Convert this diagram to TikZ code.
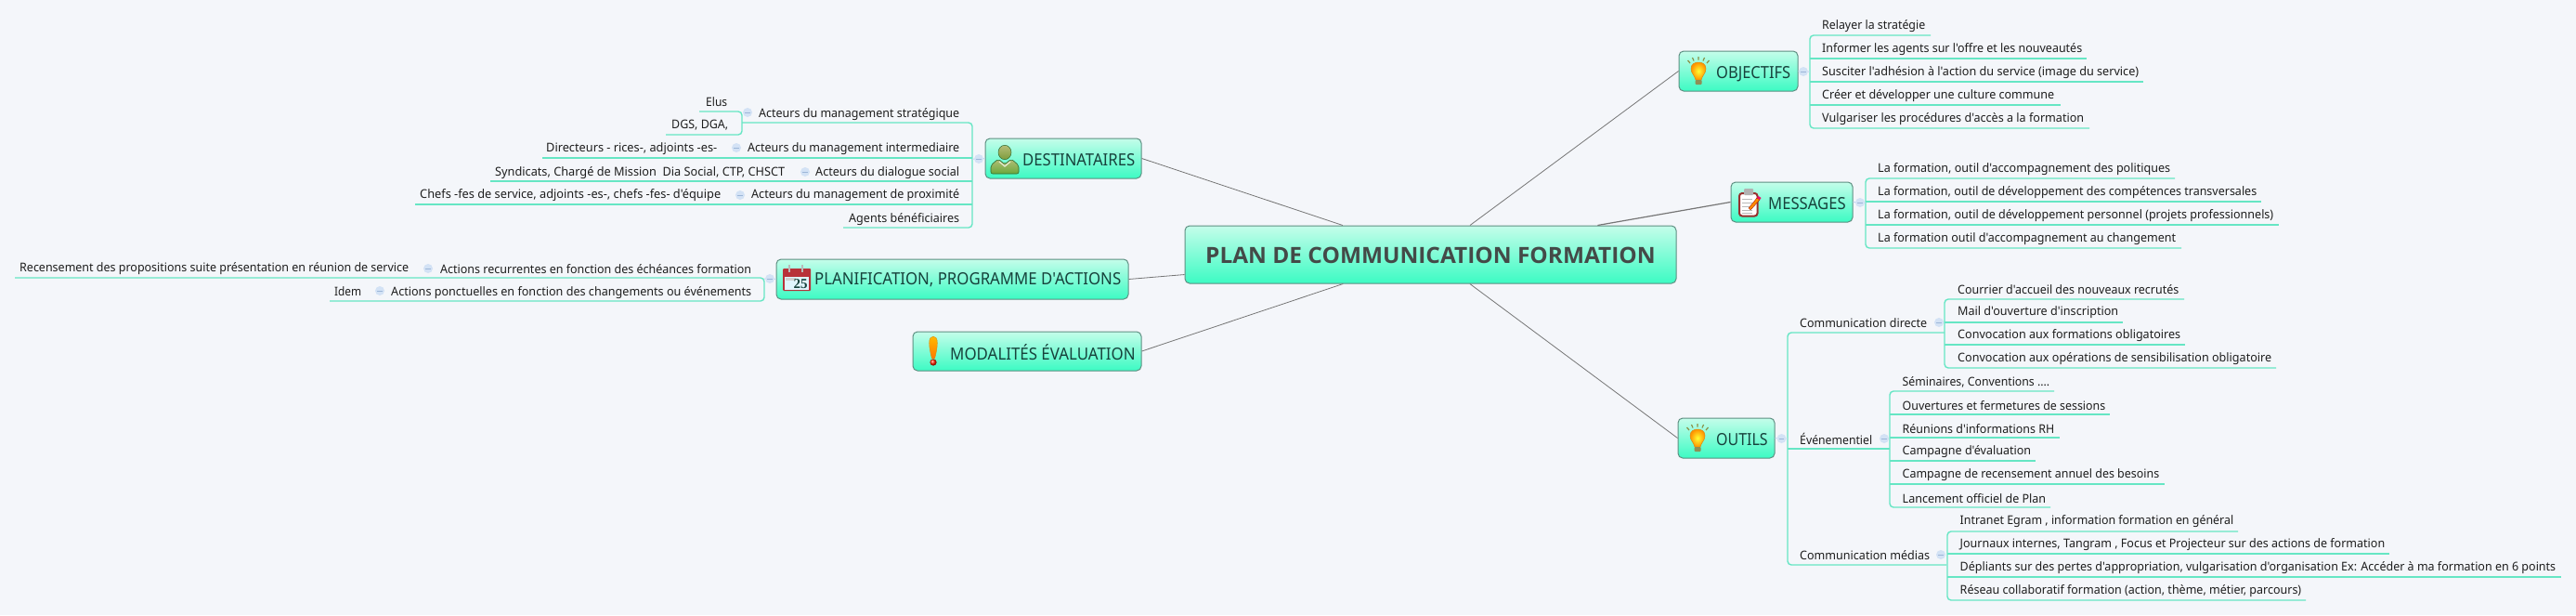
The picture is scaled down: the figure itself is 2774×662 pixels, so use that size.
\documentclass[tikz,border=0pt]{standalone}
\usepackage{fontspec}
\usepackage{graphicx}
\usetikzlibrary{calc}
\newfontfamily\mmfont{Noto Sans}
\newfontfamily\mmbold{Open Sans}
\newfontfamily\numfont{Liberation Serif}
\definecolor{bgc}{HTML}{F4F6FA}
\definecolor{branchc}{HTML}{66E6C4}
\definecolor{boxtop}{HTML}{C4FDEA}
\definecolor{boxbot}{HTML}{3CFBC3}
\definecolor{boxline}{HTML}{5E8F82}
\definecolor{titlec}{HTML}{17423C}
\definecolor{centerc}{HTML}{444A48}
\definecolor{leafc}{HTML}{1E1E1E}
\definecolor{stubc}{HTML}{C2D6F0}
\definecolor{colpsc}{HTML}{D3E2F5}
\definecolor{minusc}{HTML}{9DB6D8}
\definecolor{linkc}{HTML}{767676}
\definecolor{raysc}{HTML}{8A8F45}
\definecolor{bulbedge}{HTML}{D98A10}
\definecolor{bulbbase}{HTML}{8F8F55}
\definecolor{headtop}{HTML}{B4BE78}
\definecolor{headbot}{HTML}{7E9C3C}
\definecolor{bodybot}{HTML}{6AA83C}
\definecolor{persline}{HTML}{2F6A30}
\definecolor{calred}{HTML}{B8323A}
\definecolor{clipred}{HTML}{96302E}
\tikzset{
  x=1pt,y=-1pt,
  box/.style={draw=boxline,line width=1pt,rounded corners=5pt,top color=boxtop,bottom color=boxbot,inner sep=0pt},
  leaftext/.style={inner sep=0pt,anchor=west,text=leafc,text height=11.5pt,text depth=1.5pt,font=\mmfont\fontsize{13}{15}\selectfont},
  boxtitle/.style={inner sep=0pt,anchor=west,text=titlec,text height=16pt,text depth=2pt,font=\mmfont\fontsize{18}{20}\selectfont},
  centertitle/.style={inner sep=0pt,anchor=west,text=centerc,text height=21pt,text depth=2pt,font=\mmbold\bfseries\fontsize{24}{26}\selectfont},
  branch/.style={draw=branchc,line width=1.4pt},
  stub/.style={draw=stubc,line width=1pt},
  link/.style={draw=linkc,line width=.8pt},
  colps/.style={circle,fill=colpsc,inner sep=0pt,minimum size=10pt,path picture={\draw[minusc,line width=1pt] ($(path picture bounding box.center)+(-2.6,0)$) -- ($(path picture bounding box.center)+(2.6,0)$);}},
  bulb/.pic={
    \draw[raysc,line width=1.2pt] (-9,-9) -- (-11.5,-12) (-5,-11.5) -- (-6.5,-15) (0,-12.5) -- (0,-16) (5,-11.5) -- (6.5,-15) (9,-9) -- (11.5,-12);
    \shade[inner color=yellow!80!white,outer color=orange!85!yellow,draw=bulbedge,line width=.5pt]
      (-3,9) .. controls (-4,4) and (-8,2) .. (-8,-3) .. controls (-8,-8) and (-4,-10) .. (0,-10) .. controls (4,-10) and (8,-8) .. (8,-3) .. controls (8,2) and (4,4) .. (3,9) -- cycle;
    \fill[bulbbase,rounded corners=1pt] (-3.5,9) rectangle (3.5,14);
  },
  personic/.pic={
    \shade[top color=headtop,bottom color=bodybot,draw=persline,line width=.6pt,rounded corners=2pt]
      (-15,16) -- (-15,7) -- (-7,0) -- (0,6) -- (7,0) -- (15,7) -- (15,16) -- cycle;
    \draw[white!70!headtop,line width=1.2pt] (-6,3) -- (0,8) -- (6,3);
    \shade[top color=headtop,bottom color=headbot,draw=persline,line width=.5pt] (0,-7) ellipse (7 and 7.7);
  },
  calic/.pic={
    \fill[calred,rounded corners=1pt] (-15,-10) rectangle (15,14);
    \fill[white!88!cyan] (-13,-1) rectangle (13,12.5);
    \fill[gray!35] (-12,0) rectangle (-1,3);
    \draw[gray!55,line width=1.5pt] (-8,-14) -- (-8,-6);
    \draw[gray!55,line width=1.5pt] (6,-14) -- (6,-6);
    \node[inner sep=0pt,text=titlec] (calnum) at (4,6.5) {\numfont\bfseries\fontsize{15}{15}\selectfont 25};
  },
  clipic/.pic={
    \draw[draw=clipred,fill=white,line width=2pt,rounded corners=3pt] (-11,-10) rectangle (8.5,14.5);
    \fill[gray!60,rounded corners=1pt] (-6,-15) rectangle (4,-8);
    \foreach \yy in {-4,0,4,8,11}{\draw[gray!55,line width=.9pt] (-8,\yy) -- (3,\yy);}
    \fill[orange!90!yellow,draw=red!60!black,line width=.3pt] (-1,6) -- (8,-5) -- (11,-3) -- (1,8) -- cycle;
    \fill[magenta!60!red] (8,-5) -- (9.5,-7) -- (12.5,-5) -- (11,-3) -- cycle;
  },
  exclic/.pic={
    \shade[top color=orange!55!yellow,bottom color=orange!95!red,draw=bulbedge,line width=.4pt] (-1.5,9) .. controls (-5,-4) and (-6,-15) .. (0,-15) .. controls (6,-15) and (5,-4) .. (1.5,9) -- cycle;
    \shade[ball color=red!70!orange] (0,13) circle (3.6);
  }
}
\newcommand{\fitlabel}[6]{\node[#6] (#1) at (#2,#4) {\resizebox{\dimexpr#3pt-#2pt\relax}{\height}{#5}};}
\newcommand{\lblx}[5]{\fitlabel{#1}{#2}{#3}{#4}{#5}{leaftext}}
% name, text left, text right, text y, trunk x, far x, underline y, text
\newcommand{\leafx}[8]{\lblx{#1}{#2}{#3}{#4}{#8}\coordinate (#1A) at (#5,#7);\coordinate (#1B) at (#6,#7);}
\begin{document}
\begin{tikzpicture}
\useasboundingbox[fill=bgc] (0,0) rectangle (2774,662);

% main boxes
\node[box,minimum width=529pt,minimum height=62pt] (plan) at (1540.5,274) {};
\node[box,minimum width=168pt,minimum height=43pt] (dest) at (1145,170.5) {};
\node[box,minimum width=379pt,minimum height=43pt] (prog) at (1025.5,300.5) {};
\node[box,minimum width=246pt,minimum height=42pt] (moda) at (1106,378) {};
\node[box,minimum width=128pt,minimum height=43pt] (obje) at (1872,76.5) {};
\node[box,minimum width=131pt,minimum height=43pt] (mess) at (1929.5,217.5) {};
\node[box,minimum width=104pt,minimum height=43pt] (outi) at (1859,471.5) {};

\fitlabel{planT}{1298}{1782.5}{274}{PLAN DE COMMUNICATION FORMATION}{centertitle}
\fitlabel{destT}{1101}{1222}{171}{DESTINATAIRES}{boxtitle}
\fitlabel{progT}{877}{1207}{299}{PLANIFICATION, PROGRAMME D'ACTIONS}{boxtitle}
\fitlabel{modaT}{1023}{1222.5}{380}{MODALITÉS ÉVALUATION}{boxtitle}
\fitlabel{objeT}{1848}{1928}{77}{OBJECTIFS}{boxtitle}
\fitlabel{messT}{1904}{1987.5}{218}{MESSAGES}{boxtitle}
\fitlabel{outiT}{1848}{1903.5}{472}{OUTILS}{boxtitle}

% links from the centre
\draw[link] (plan) -- (obje.west);
\draw[link,line width=1.2pt] (plan) -- (mess.west);
\draw[link] (plan) -- (outi.west);
\draw[link] (plan) -- (dest.east);
\draw[link] (plan) -- (prog.east);
\draw[link] (plan) -- (moda.east);

% icons
\pic at (1829,77) {bulb};
\pic at (1828,472) {bulb};
\pic at (1082,171) {personic};
\pic at (858,299) {calic};
\pic at (1884,218) {clipic};
\pic at (1005,377) {exclic};

% DESTINATAIRES branch
\leafx{d1}{817}{1033}{121}{799}{1047}{132}{Acteurs du management stratégique}
\leafx{d2}{805}{1033}{158}{1047}{584}{170}{Acteurs du management intermediaire}
\leafx{d3}{878}{1033}{184}{1047}{528}{195}{Acteurs du dialogue social}
\leafx{d4}{809}{1033}{208}{1047}{447}{220}{Acteurs du management de proximité}
\leafx{d5}{914}{1033}{234}{1047}{908}{245}{Agents bénéficiaires}
\leafx{d1a}{760}{783}{109}{799}{753}{120}{Elus}
\leafx{d1b}{723}{784}{133}{799}{717}{145}{DGS, DGA,}
\lblx{d2a}{588}{772}{158}{Directeurs - rices-, adjoints -es-}
\lblx{d3a}{533}{845}{184}{Syndicats, Chargé de Mission\ \ Dia Social, CTP, CHSCT}
\lblx{d4a}{452}{776}{208}{Chefs -fes de service, adjoints -es-, chefs -fes- d'équipe}
\coordinate (dT) at (1047,171);
\draw[branch,rounded corners=4pt] (d1A) -- (1047,132) -- (d5A) -- (d5B);
\draw[branch] (d2A) -- (d2B);
\draw[branch] (d3A) -- (d3B);
\draw[branch] (d4A) -- (d4B);
\draw[branch,rounded corners=4pt] (d1aB) -- (d1aA) -- (d1bA) -- (d1bB);
\node[colps] (cd) at (1054,171) {};
\draw[stub] (dest.west) -- (cd) -- (dT);
\node[colps] (cd1) at (805,121) {};
\node[colps] (cd2) at (793,159) {};
\node[colps] (cd3) at (867,185) {};
\node[colps] (cd4) at (797,210) {};

% PLANIFICATION branch
\leafx{p1}{474}{809}{289}{823}{16}{299}{Actions recurrentes en fonction des échéances formation}
\leafx{p2}{421}{809}{313}{823}{355}{324}{Actions ponctuelles en fonction des changements ou événements}
\lblx{p1a}{21}{440}{287}{Recensement des propositions suite présentation en réunion de service}
\lblx{p2a}{360}{389}{313}{Idem}
\coordinate (pT) at (823,300);
\draw[branch,rounded corners=4pt] (p1B) -- (p1A) -- (p2A) -- (p2B);
\node[colps] (cp) at (829,300) {};
\draw[stub] (prog.west) -- (cp) -- (pT);
\node[colps] (cp1) at (461,289) {};
\node[colps] (cp2) at (409,313) {};

% OBJECTIFS branch
\leafx{o1}{1962}{2073}{26}{1949}{2079}{38}{Relayer la stratégie}
\leafx{o2}{1962}{2242}{51}{1949}{2247}{63}{Informer les agents sur l'offre et les nouveautés}
\leafx{o3}{1962}{2303}{76}{1949}{2308}{88}{Susciter l'adhésion à l'action du service (image du service)}
\leafx{o4}{1962}{2212}{101}{1949}{2219}{113}{Créer et développer une culture commune}
\leafx{o5}{1962}{2244}{126}{1949}{2250}{138}{Vulgariser les procédures d'accès a la formation}
\coordinate (oT) at (1949,77);
\draw[branch,rounded corners=4pt] (o1B) -- (o1A) -- (o5A) -- (o5B);
\draw[branch] (o2A) -- (o2B);
\draw[branch] (o3A) -- (o3B);
\draw[branch] (o4A) -- (o4B);
\node[colps] (co) at (1942,77) {};
\draw[stub] (obje.east) -- (co) -- (oT);

% MESSAGES branch
\leafx{m1}{2022}{2337}{180}{2009}{2342}{192}{La formation, outil d'accompagnement des politiques}
\leafx{m2}{2022}{2430}{205}{2009}{2435}{217}{La formation, outil de développement des compétences transversales}
\leafx{m3}{2022}{2448}{230}{2009}{2454}{242}{La formation, outil de développement personnel (projets professionnels)}
\leafx{m4}{2022}{2343}{255}{2009}{2349}{267}{La formation outil d'accompagnement au changement}
\coordinate (mT) at (2009,218);
\draw[branch,rounded corners=4pt] (m1B) -- (m1A) -- (m4A) -- (m4B);
\draw[branch] (m2A) -- (m2B);
\draw[branch] (m3A) -- (m3B);
\node[colps] (cm) at (2003,218) {};
\draw[stub] (mess.east) -- (cm) -- (mT);

% OUTILS branch
\leafx{t1}{1938}{2075}{347}{1925}{2094}{358}{Communication directe}
\leafx{t2}{1938}{2016}{473}{1925}{2035}{483}{Événementiel}
\leafx{t3}{1938}{2078}{597}{1925}{2096}{608}{Communication médias}
\coordinate (tT) at (1925,472);
\draw[branch,rounded corners=4pt] (t1B) -- (t1A) -- (t3A) -- (t3B);
\draw[branch] (t2A) -- (t2B);
\node[colps] (ct) at (1918.5,472) {};
\draw[stub] (outi.east) -- (ct) -- (tT);

\leafx{a1}{2108}{2346}{311}{2094}{2352}{322}{Courrier d'accueil des nouveaux recrutés}
\leafx{a2}{2108}{2281}{334}{2094}{2286}{347}{Mail d'ouverture d'inscription}
\leafx{a3}{2108}{2348}{359}{2094}{2353}{371}{Convocation aux formations obligatoires}
\leafx{a4}{2108}{2446}{384}{2094}{2451}{396}{Convocation aux opérations de sensibilisation obligatoire}
\draw[branch,rounded corners=4pt] (a1B) -- (a1A) -- (a4A) -- (a4B);
\draw[branch] (a2A) -- (a2B);
\draw[branch] (a3A) -- (a3B);
\node[colps] (ca) at (2088,347) {};

\leafx{b1}{2048.5}{2207}{410}{2035}{2212}{421}{Séminaires, Conventions ....}
\leafx{b2}{2048.5}{2267}{436}{2035}{2272}{446}{Ouvertures et fermetures de sessions}
\leafx{b3}{2048.5}{2212}{461}{2035}{2218}{471}{Réunions d'informations RH}
\leafx{b4}{2048.5}{2187}{484}{2035}{2192}{496}{Campagne d'évaluation}
\leafx{b5}{2048.5}{2325}{509}{2035}{2331}{521}{Campagne de recensement annuel des besoins}
\leafx{b6}{2048.5}{2203}{536}{2035}{2208}{546}{Lancement officiel de Plan}
\draw[branch,rounded corners=4pt] (b1B) -- (b1A) -- (b6A) -- (b6B);
\draw[branch] (b2A) -- (b2B);
\draw[branch] (b3A) -- (b3B);
\draw[branch] (b4A) -- (b4B);
\draw[branch] (b5A) -- (b5B);
\node[colps] (cb) at (2029,472) {};

\leafx{e1}{2110.5}{2405}{559}{2097}{2410}{572}{Intranet Egram , information formation en général}
\leafx{e2}{2110.5}{2568}{584}{2097}{2573}{596}{Journaux internes, Tangram , Focus et Projecteur sur des actions de formation}
\leafx{e3}{2110.5}{2752}{609}{2097}{2758}{621}{Dépliants sur des pertes d'appropriation, vulgarisation d'organisation Ex: Accéder à ma formation en 6 points}
\leafx{e4}{2110.5}{2478}{634}{2097}{2483}{646}{Réseau collaboratif formation (action, thème, métier, parcours)}
\draw[branch,rounded corners=4pt] (e1B) -- (e1A) -- (e4A) -- (e4B);
\draw[branch] (e2A) -- (e2B);
\draw[branch] (e3A) -- (e3B);
\node[colps] (ce) at (2090,597) {};
\end{tikzpicture}
\end{document}
